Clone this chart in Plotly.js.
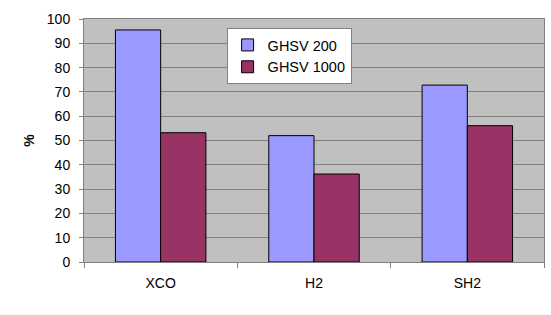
<!DOCTYPE html>
<html><head><meta charset="utf-8">
<script src="https://cdn.plot.ly/plotly-3.0.1.min.js"></script>
<style>body{margin:0;background:#fff}#c{width:551px;height:315px}</style>
</head><body><div id="c"></div>
<script>
const categories = ["XCO", "H2", "SH2"];
const ghsv200 = [95.5, 52, 72.8];
const ghsv1000 = [53.2, 36.2, 56.1];
const seriesNames = ["GHSV 200", "GHSV 1000"];
const yTicks = [0,10,20,30,40,50,60,70,80,90,100];

const data = [
  {type:"bar", x:categories, y:ghsv200, name:seriesNames[0],
   marker:{color:"#9999ff", line:{color:"#000000", width:1}}},
  {type:"bar", x:categories, y:ghsv1000, name:seriesNames[1],
   marker:{color:"#993366", line:{color:"#000000", width:1}}}
];
const layout = {
  width:551, height:315,
  margin:{l:84, r:7, t:19, b:53},
  paper_bgcolor:"#ffffff", plot_bgcolor:"#c0c0c0",
  barmode:"group", bargap:0.41, bargroupgap:0,
  font:{family:"Liberation Sans, Arial, sans-serif", size:14, color:"#000"},
  showlegend:true,
  legend:{x:0.31, y:0.963, xanchor:"left", yanchor:"top", bgcolor:"#ffffff",
          bordercolor:"#808080", borderwidth:1, font:{size:14.5},
          itemwidth:30, tracegroupgap:0},
  xaxis:{type:"category", showline:true, linecolor:"#808080", linewidth:1,
         ticks:"outside", tickson:"boundaries", ticklen:5, tickcolor:"#808080",
         mirror:true, showgrid:false, tickfont:{size:14}, ticklabelstandoff:8},
  yaxis:{range:[0,100], tickvals:yTicks, showline:true, linecolor:"#808080",
         linewidth:1, ticks:"outside", ticklen:4, tickcolor:"#808080",
         gridcolor:"#808080", gridwidth:1, zeroline:false, mirror:true,
         tickfont:{size:14}, ticklabelstandoff:6,
         title:{text:"<b>%</b>", font:{size:14}, standoff:8}}
};
Plotly.newPlot("c", data, layout, {displayModeBar:false, staticPlot:true});
</script></body></html>
